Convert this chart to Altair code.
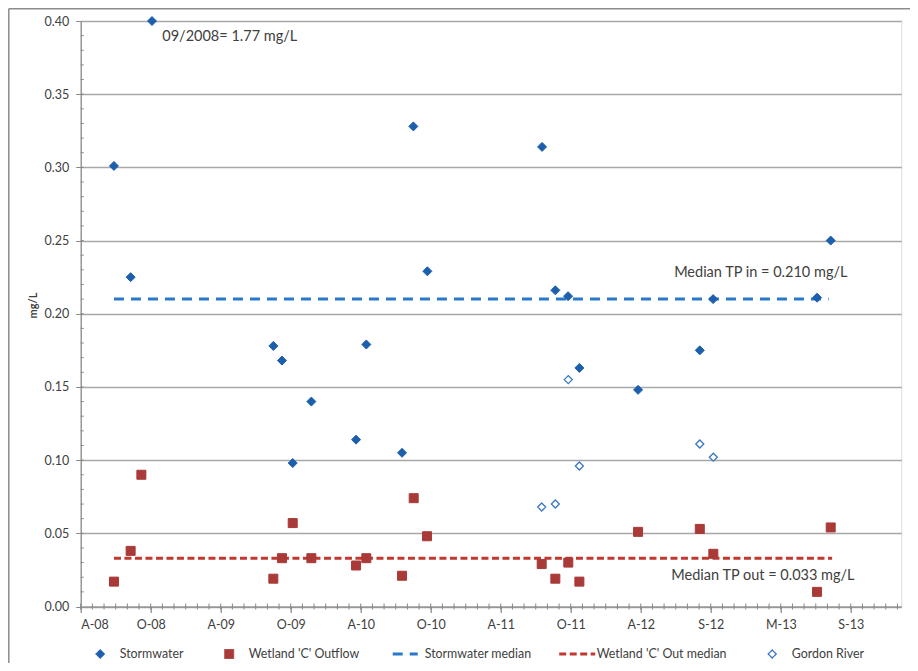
import json
import altair as alt
import pandas as pd

# ---------------- data ----------------
x_labels = ["A-08", "O-08", "A-09", "O-09", "A-10", "O-10",
            "A-11", "O-11", "A-12", "S-12", "M-13", "S-13"]
x_label_months = [0, 6, 12, 18, 24, 30, 36, 42, 48, 54, 60, 66]
y_ticks = [0.0, 0.05, 0.10, 0.15, 0.20, 0.25, 0.30, 0.35, 0.40]

# months after April 2008
storm_month = [2.85, 4.28, 6.11, 16.51, 17.25, 18.17, 19.77, 23.6, 24.48, 27.54,
               28.51, 29.71, 39.54, 40.68, 41.77, 42.74, 47.77, 53.06, 54.2, 63.11, 64.28]
storm_tp = [0.301, 0.225, 1.77, 0.178, 0.168, 0.098, 0.140, 0.114, 0.179, 0.105,
            0.328, 0.229, 0.314, 0.216, 0.212, 0.163, 0.148, 0.175, 0.210, 0.211, 0.250]

wet_month = [2.85, 4.28, 5.2, 16.51, 17.25, 18.17, 19.77, 23.6, 24.48, 27.54,
             28.54, 29.68, 39.51, 40.68, 41.79, 42.74, 47.77, 53.06, 54.22, 63.11, 64.28]
wet_tp = [0.017, 0.038, 0.090, 0.019, 0.033, 0.057, 0.033, 0.028, 0.033, 0.021,
          0.074, 0.048, 0.029, 0.019, 0.030, 0.017, 0.051, 0.053, 0.036, 0.010, 0.054]

gordon_month = [39.51, 40.68, 41.79, 42.74, 53.06, 54.22]
gordon_tp = [0.068, 0.070, 0.155, 0.096, 0.111, 0.102]

storm_median_month = [2.85, 64.1]
storm_median_tp = [0.210, 0.210]
wet_median_month = [2.85, 64.4]
wet_median_tp = [0.033, 0.033]

annot_month = [6.99, 50.86, 50.62]
annot_tp = [0.389, 0.228, 0.0205]
annot_text = ["09/2008= 1.77 mg/L", "Median TP in = 0.210 mg/L", "Median TP out = 0.033 mg/L"]

series_names = ["Stormwater", "Wetland 'C' Outflow", "Stormwater median",
                "Wetland 'C' Out median", "Gordon River"]

# ---------------- styling ----------------
stroke_colors = ["#1C5FAD", "#A93A38", "#2A78C8", "#C0392E", "#3A78C0"]
fill_colors = ["#1C5FAD", "#A93A38", "transparent", "transparent", "#FFFFFF"]
shapes = ["diamond", "square", "stroke", "stroke", "diamond"]
sizes = [81, 81, 625, 1296, 64]
stroke_widths = [1, 1, 3, 3, 1.3]
dashes = [[1, 0], [1, 0], [10, 7], [7, 3.5], [1, 0]]

W, H = 820.6, 585.5
FONT = "Lato"
TXT = "#404040"
AXC = "#868686"

# ---------------- tables ----------------
pts = pd.concat([
    pd.DataFrame({"month": storm_month, "tp": storm_tp, "series": series_names[0]}),
    pd.DataFrame({"month": wet_month, "tp": wet_tp, "series": series_names[1]}),
    pd.DataFrame({"month": gordon_month, "tp": gordon_tp, "series": series_names[4]}),
], ignore_index=True)

med = pd.concat([
    pd.DataFrame({"month": storm_median_month, "tp": storm_median_tp, "series": series_names[2]}),
    pd.DataFrame({"month": wet_median_month, "tp": wet_median_tp, "series": series_names[3]}),
], ignore_index=True)

ann = pd.DataFrame({"month": annot_month, "tp": annot_tp, "label": annot_text})

minor_x = pd.DataFrame({"month": list(range(0, 71))})
minor_y = pd.DataFrame({"tp": [i / 100 for i in range(1, 40)]})

sc_x = alt.Scale(domain=[0, 70.33], nice=False, zero=False)
sc_y = alt.Scale(domain=[0, 0.4], nice=False, zero=True, clamp=True)

x_axis = alt.Axis(
    values=x_label_months,
    labelExpr=json.dumps(x_labels) + "[round(datum.value / 6)]",
    title=None, grid=False, tickSize=6, labelPadding=6,
    domainColor=AXC, tickColor=AXC, domainWidth=1.2, tickWidth=1.2,
    labelFont=FONT, labelFontSize=12.5, labelColor=TXT,
)
y_axis = alt.Axis(
    values=y_ticks, format=".2f", title="mg/L",
    titleFont=FONT, titleFontSize=11, titleFontWeight="bold", titleColor=TXT,
    titleX=-47, titleY=284, titleAngle=270, titleAlign="center", titleBaseline="middle",
    grid=True, gridColor="#A8A8A8", gridWidth=1.3,
    tickSize=5, labelPadding=7, domainColor=AXC, tickColor=AXC, domainWidth=1.2,
    labelFont=FONT, labelFontSize=12.5, labelColor=TXT,
)

X = alt.X("month:Q", scale=sc_x, axis=x_axis)
Y = alt.Y("tp:Q", scale=sc_y, axis=y_axis)

leg = alt.Legend(
    title=None, orient="none", legendX=0, legendY=626,
    direction="horizontal", columns=5, columnPadding=26, clipHeight=14,
    labelFont=FONT, labelFontSize=12.4, labelColor=TXT, labelOffset=0,
)

def enc_stroke():
    return alt.Stroke("series:N", scale=alt.Scale(domain=series_names, range=stroke_colors), legend=leg)

def enc_sw():
    return alt.StrokeWidth("series:N", scale=alt.Scale(type="ordinal", domain=series_names, range=stroke_widths), legend=leg)

frame_df = pd.DataFrame({"a": [0]})
border_top = alt.Chart(frame_df).mark_rule(color="#8C8C8C", strokeWidth=1.5).encode(
    x=alt.value(-72), x2=alt.value(W + 60), y=alt.value(-12.2)
)
border_left = alt.Chart(frame_df).mark_rule(color="#8C8C8C", strokeWidth=1.5).encode(
    x=alt.value(-71.9), y=alt.value(-12.2), y2=alt.value(H + 120)
)

xminor = alt.Chart(minor_x).mark_rule(color=AXC, strokeWidth=1).encode(
    x=X, y=alt.value(H - 3), y2=alt.value(H + 3),
)
yminor = alt.Chart(minor_y).mark_rule(color=AXC, strokeWidth=1).encode(
    y=Y, x=alt.value(0), x2=alt.value(3),
)

lines = alt.Chart(med).mark_line().encode(
    x=X, y=Y,
    stroke=enc_stroke(),
    strokeWidth=enc_sw(),
    strokeDash=alt.StrokeDash("series:N", scale=alt.Scale(domain=series_names, range=dashes), legend=leg),
)

points = alt.Chart(pts).mark_point(filled=True, opacity=1).encode(
    x=X, y=Y,
    shape=alt.Shape("series:N", scale=alt.Scale(domain=series_names, range=shapes), legend=leg),
    fill=alt.Fill("series:N", scale=alt.Scale(domain=series_names, range=fill_colors), legend=leg),
    stroke=enc_stroke(),
    strokeWidth=enc_sw(),
    size=alt.Size("series:N", scale=alt.Scale(type="ordinal", domain=series_names, range=sizes), legend=leg),
)

texts = alt.Chart(ann).mark_text(
    align="left", baseline="middle", font=FONT, fontSize=14.5, color=TXT
).encode(
    x=X, y=Y, text="label:N",
)

chart = alt.layer(border_top, border_left, xminor, yminor, lines, points, texts).properties(
    width=W, height=H,
    autosize=alt.AutoSizeParams(type="none"),
    padding={"left": 72.7, "top": 13, "right": 8.7, "bottom": 56},
).configure_view(stroke=None).configure(background="white")

chart.save("out.html", embed_options={"renderer": "svg", "actions": False})
